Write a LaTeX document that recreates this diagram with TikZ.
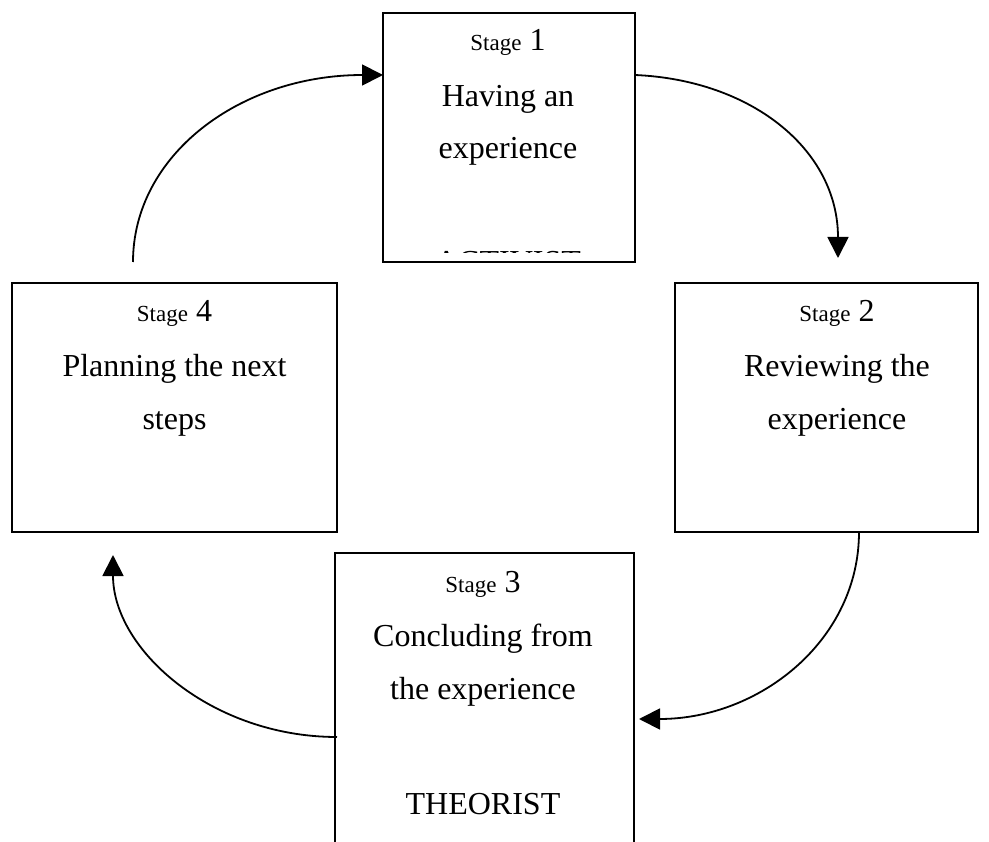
\documentclass[tikz,border=0pt]{standalone}
\usepackage{fontspec}
\setmainfont{Liberation Serif}
\usetikzlibrary{arrows.meta}
\begin{document}
\begin{tikzpicture}[x=1pt,y=-1pt,
  stagebox/.style={draw=black, line width=1.8pt, rectangle, inner sep=0pt},
  txt/.style={anchor=base, inner sep=0pt, font=\fontsize{32}{38}\selectfont},
  flow/.style={line width=1.8pt, -{Triangle[length=21pt,width=21pt]}}]
\useasboundingbox (0,0) rectangle (989,842);
% boxes
\node[stagebox, minimum width=252pt, minimum height=249pt] (b1) at (509,137.5) {};
\node[stagebox, minimum width=325pt, minimum height=249pt] (b4) at (174.5,407.5) {};
\node[stagebox, minimum width=303pt, minimum height=249pt] (b2) at (826.5,407.5) {};
\draw[line width=1.8pt] (335,860) -- (335,553) -- (634,553) -- (634,860);
\coordinate (b3nw) at (335,553);
% texts box 1
\node[txt] (s1) at (508,51) {{\fontsize{23}{28}\selectfont Stage} 1};
\node[txt] (t1a) at (508,107) {Having an};
\node[txt] (t1b) at (508,159) {experience};
\begin{scope}
\clip (384,251) rectangle (634,252.8);
\node[txt] (act) at (508,273) {ACTIVIST};
\end{scope}
% box 4
\node[txt] (s4) at (174.5,322) {{\fontsize{23}{28}\selectfont Stage} 4};
\node[txt] (t4a) at (174.5,377) {Planning the next};
\node[txt] (t4b) at (174.5,430) {steps};
% box 2
\node[txt] (s2) at (837,322) {{\fontsize{23}{28}\selectfont Stage} 2};
\node[txt] (t2a) at (837,377) {Reviewing the};
\node[txt] (t2b) at (837,430) {experience};
% box 3
\node[txt] (s3) at (483,592) {{\fontsize{23}{28}\selectfont Stage} 3};
\node[txt] (t3a) at (483,646) {Concluding from};
\node[txt] (t3b) at (483,699) {the experience};
\node[txt] (t3c) at (483,814) {THEORIST};
% connector end points
\coordinate (a41s) at (133,262);
\coordinate (a41e) at (383,75);
\coordinate (a12s) at (635,75);
\coordinate (a12e) at (838,258);
\coordinate (a23s) at (859,532);
\coordinate (a23e) at (639,719);
\coordinate (a34s) at (337,737);
\coordinate (a34e) at (113,555);
\draw[flow] (a41s) .. controls (133,155) and (240,75) .. (a41e);
\draw[flow] (a12s) .. controls (752,80) and (838,150) .. (a12e);
\draw[flow] (a23s) .. controls (859,640) and (760,719) .. (a23e);
\draw[flow] (a34s) .. controls (212,737) and (113,650) .. (a34e);
\end{tikzpicture}
\end{document}
